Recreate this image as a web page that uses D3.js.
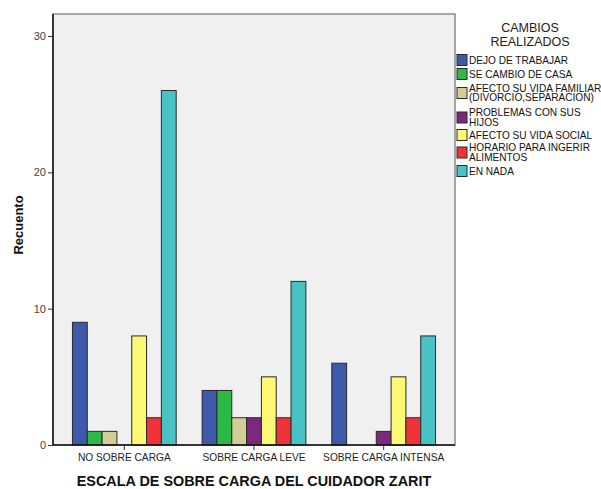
<!DOCTYPE html>
<html><head><meta charset="utf-8">
<script src="https://cdn.jsdelivr.net/npm/d3@7"></script>
<style>body{margin:0;background:#fff;font-family:"Liberation Sans",Arial,sans-serif;}</style>
</head><body><svg id="c" width="601" height="489"></svg>
<script>
const categories = ["NO SOBRE CARGA", "SOBRE CARGA LEVE", "SOBRE CARGA INTENSA"];
const seriesNames = ["DEJO DE TRABAJAR", "SE CAMBIO DE CASA", "AFECTO SU VIDA FAMILIAR (DIVORCIO,SEPARACION)", "PROBLEMAS CON SUS HIJOS", "AFECTO SU VIDA SOCIAL", "HORARIO PARA INGERIR ALIMENTOS", "EN NADA"];
const legendLines = [["DEJO DE TRABAJAR"], ["SE CAMBIO DE CASA"], ["AFECTO SU VIDA FAMILIAR", "(DIVORCIO,SEPARACION)"], ["PROBLEMAS CON SUS", "HIJOS"], ["AFECTO SU VIDA SOCIAL"], ["HORARIO PARA INGERIR", "ALIMENTOS"], ["EN NADA"]];
const colors = ["#3E58AC", "#2EB848", "#D3CE97", "#7C287D", "#FBF873", "#EF3338", "#48C2C5"];
const dejo = [9, 4, 6];
const cambioCasa = [1, 4, 0];
const familiar = [1, 2, 0];
const hijos = [0, 2, 1];
const social = [8, 5, 5];
const horario = [2, 2, 2];
const enNada = [26, 12, 8];
const values = [dejo, cambioCasa, familiar, hijos, social, horario, enNada];
const yTicks = [0, 10, 20, 30];

const svg = d3.select("#c");
const L = 53, R = 455, T = 14, B = 445;
const y = d3.scaleLinear().domain([0, 30]).range([B, 36]);
const x0 = d3.scaleBand().domain(categories).range([L, R]).paddingInner(0.2).paddingOuter(0.15);
const x1 = d3.scaleBand().domain(d3.range(seriesNames.length)).range([0, x0.bandwidth()]);

svg.append("rect").attr("x", L).attr("y", T).attr("width", R - L).attr("height", B - T)
  .attr("fill", "#F0F0F0").attr("stroke", "#8a8a8a").attr("stroke-width", 1.5);

const g = svg.append("g");
categories.forEach((c, ci) => {
  values.forEach((arr, si) => {
    const v = arr[ci];
    if (v <= 0) return;
    g.append("rect")
      .attr("x", x0(c) + x1(si))
      .attr("y", y(v))
      .attr("width", x1.bandwidth())
      .attr("height", y(0) - y(v))
      .attr("fill", colors[si])
      .attr("stroke", "#2a2a2a").attr("stroke-width", 1);
  });
});

// axes
const yAxis = svg.append("g").attr("transform", `translate(${L},0)`)
  .call(d3.axisLeft(y).tickValues(yTicks).tickSize(5).tickPadding(2));
yAxis.select(".domain").remove();
yAxis.selectAll("text").attr("font-size", 11).attr("fill", "#444").attr("font-family", "Liberation Sans, Arial");
yAxis.selectAll("line").attr("stroke", "#333");
svg.append("line").attr("x1", L).attr("x2", L).attr("y1", T).attr("y2", B).attr("stroke", "#111").attr("stroke-width", 1.5);

const xAxis = svg.append("g").attr("transform", `translate(0,${B})`)
  .call(d3.axisBottom(x0).tickSize(5).tickPadding(4));
xAxis.select(".domain").remove();
xAxis.selectAll("text").attr("font-size", 10.2).attr("fill", "#222").attr("font-family", "Liberation Sans, Arial");
xAxis.selectAll("line").attr("stroke", "#333");
svg.append("line").attr("x1", L).attr("x2", R).attr("y1", B).attr("y2", B).attr("stroke", "#111").attr("stroke-width", 1.5);

svg.append("text").attr("x", 254).attr("y", 486).attr("text-anchor", "middle")
  .attr("font-size", 14.4).attr("font-weight", "bold").attr("fill", "#111")
  .text("ESCALA DE SOBRE CARGA DEL CUIDADOR ZARIT");
svg.append("text").attr("transform", "translate(23,225) rotate(-90)").attr("text-anchor", "middle")
  .attr("font-size", 13).attr("font-weight", "bold").attr("fill", "#111").text("Recuento");

// legend
const lg = svg.append("g");
lg.append("text").attr("x", 530).attr("y", 32).attr("text-anchor", "middle").attr("font-size", 12.5).attr("fill", "#222").text("CAMBIOS");
lg.append("text").attr("x", 530).attr("y", 46).attr("text-anchor", "middle").attr("font-size", 12.5).attr("fill", "#222").text("REALIZADOS");
const itemY = [60, 74, 93, 117.5, 135, 152.5, 171];
legendLines.forEach((lines, i) => {
  const cy = itemY[i];
  lg.append("rect").attr("x", 457).attr("y", cy - 5.5).attr("width", 10).attr("height", 11)
    .attr("fill", colors[i]).attr("stroke", "#2a2a2a").attr("stroke-width", 1);
  const n = lines.length;
  lines.forEach((t, k) => {
    lg.append("text").attr("x", 469).attr("y", cy + (k - (n - 1) / 2) * 9.6 + 3.5)
      .attr("font-size", 10.1).attr("fill", "#111").text(t);
  });
});
</script></body></html>
